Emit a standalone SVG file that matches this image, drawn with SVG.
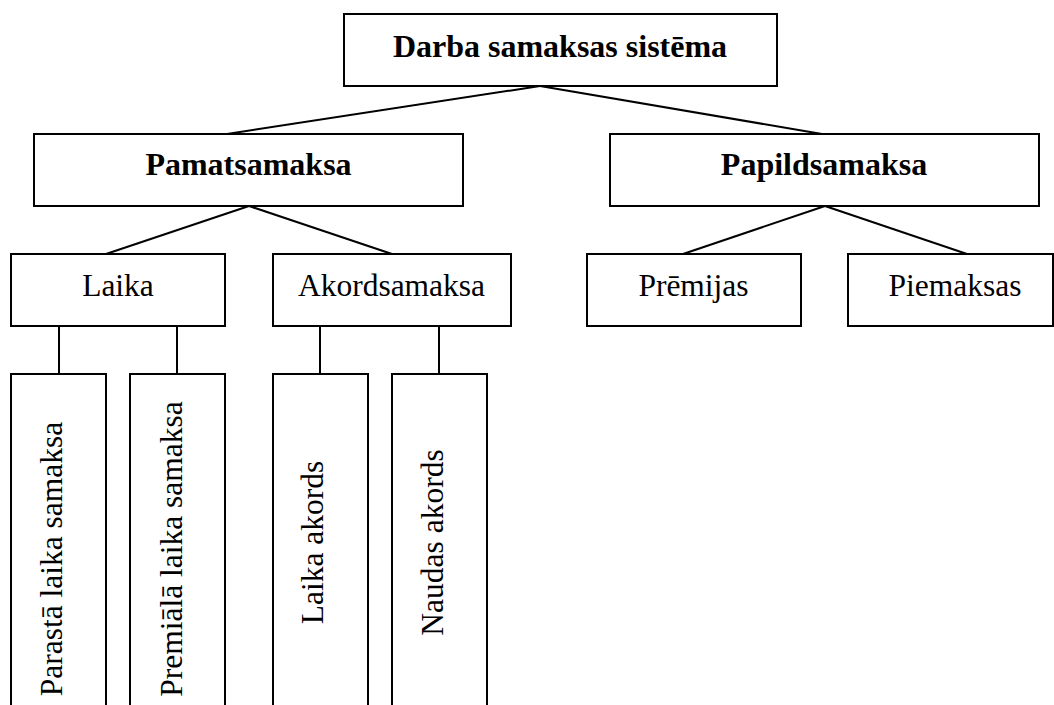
<svg xmlns="http://www.w3.org/2000/svg" width="1054" height="705" viewBox="0 0 1054 705">
<style>
.box{fill:#fff;stroke:#000;stroke-width:2}
.ln{stroke:#000;stroke-width:2;fill:none}
.b{font-family:"Liberation Serif","Times New Roman",serif;font-weight:bold;font-size:32px;text-anchor:middle;fill:#000}
.r{font-family:"Liberation Serif","Times New Roman",serif;font-size:31.5px;text-anchor:middle;fill:#000}
</style>
<rect width="1054" height="705" fill="#fff"/>
<g id="connectors">
<line class="ln" x1="540" y1="86" x2="227" y2="134"/>
<line class="ln" x1="540" y1="86" x2="822" y2="134"/>
<line class="ln" x1="249" y1="206" x2="106" y2="254"/>
<line class="ln" x1="249" y1="206" x2="392" y2="254"/>
<line class="ln" x1="825" y1="206" x2="683" y2="254"/>
<line class="ln" x1="825" y1="206" x2="967" y2="254"/>
<line class="ln" x1="59" y1="326" x2="59" y2="374"/>
<line class="ln" x1="177" y1="326" x2="177" y2="374"/>
<line class="ln" x1="320" y1="326" x2="320" y2="374"/>
<line class="ln" x1="439" y1="326" x2="439" y2="374"/>
</g>
<g id="root"><rect class="box" x="344" y="14" width="433" height="72"/><text class="b" x="560" y="56.5">Darba samaksas sistēma</text></g>
<g id="pamat"><rect class="box" x="34" y="134" width="429" height="72"/><text class="b" x="248.5" y="174.5">Pamatsamaksa</text></g>
<g id="papild"><rect class="box" x="610" y="134" width="429" height="72"/><text class="b" x="824" y="174.5">Papildsamaksa</text></g>
<g id="laika"><rect class="box" x="11" y="254" width="214" height="72"/><text class="r" x="118" y="295.5">Laika</text></g>
<g id="akord"><rect class="box" x="273" y="254" width="238" height="72"/><text class="r" x="391.5" y="295.5">Akordsamaksa</text></g>
<g id="premijas"><rect class="box" x="587" y="254" width="214" height="72"/><text class="r" x="693.5" y="295.5">Prēmijas</text></g>
<g id="piemaksas"><rect class="box" x="848" y="254" width="205" height="72"/><text class="r" x="955" y="295.5">Piemaksas</text></g>
<g id="parasta"><rect class="box" x="11" y="374" width="95" height="345"/><text class="r" transform="translate(62,559) rotate(-90)">Parastā laika samaksa</text></g>
<g id="premiala"><rect class="box" x="130" y="374" width="95" height="345"/><text class="r" transform="translate(181.5,549) rotate(-90)">Premiālā laika samaksa</text></g>
<g id="laikaakords"><rect class="box" x="273" y="374" width="95" height="345"/><text class="r" transform="translate(323,542.5) rotate(-90)">Laika akords</text></g>
<g id="naudasakords"><rect class="box" x="392" y="374" width="95" height="345"/><text class="r" transform="translate(443,542.5) rotate(-90)">Naudas akords</text></g>
</svg>
